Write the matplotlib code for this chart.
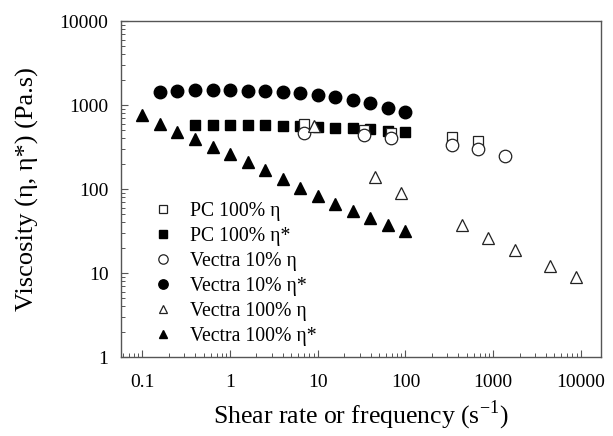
import matplotlib
matplotlib.use("Agg")
import matplotlib.pyplot as plt
from matplotlib.ticker import LogLocator, FixedLocator, NullFormatter, FixedFormatter

plt.rcParams['font.family'] = ['Liberation Serif', 'DejaVu Serif']
plt.rcParams['mathtext.fontset'] = 'custom'
plt.rcParams['mathtext.rm'] = 'Liberation Serif'

# PC 100% eta (open squares)
pc_eta_x = [6.9, 34, 69, 340, 680]
pc_eta_y = [594, 506, 468, 418, 376]
# PC 100% eta* (filled squares)
pc_etas_x = [0.398, 0.631, 1.0, 1.585, 2.51, 3.98, 6.31, 10, 15.85, 25.1, 39.8, 63.1, 100]
pc_etas_y = [578, 578, 578, 578, 578, 567, 562, 552, 537, 527, 513, 494, 481]
# Vectra 10% eta (open circles)
v10_eta_x = [6.9, 34, 69, 340, 680, 1350]
v10_eta_y = [460, 440, 400, 334, 297, 247]
# Vectra 10% eta* (filled circles)
v10_etas_x = [0.158, 0.251, 0.398, 0.631, 1.0, 1.585, 2.51, 3.98, 6.31, 10, 15.85, 25.1, 39.8, 63.1, 100]
v10_etas_y = [1440, 1470, 1510, 1510, 1510, 1480, 1470, 1440, 1380, 1315, 1235, 1150, 1050, 930, 830]
# Vectra 100% eta (open triangles)
v100_eta_x = [9.1, 44.7, 89, 440, 870, 1780, 4400, 8800]
v100_eta_y = [567, 140, 89, 37, 26, 18.7, 12.1, 9.0]
# Vectra 100% eta* (filled triangles)
v100_etas_x = [0.1, 0.158, 0.251, 0.398, 0.631, 1.0, 1.585, 2.51, 3.98, 6.31, 10, 15.85, 25.1, 39.8, 63.1, 100]
v100_etas_y = [760, 594, 481, 390, 318, 259, 211, 168, 132, 104, 83, 67, 54, 45, 37, 31.6]

labels = ["PC 100% η", "PC 100% η*", "Vectra 10% η", "Vectra 10% η*",
          "Vectra 100% η", "Vectra 100% η*"]

xticks = [0.1, 1, 10, 100, 1000, 10000]
xticklabels = ["0.1", "1", "10", "100", "1000", "10000"]
yticks = [1, 10, 100, 1000, 10000]
yticklabels = ["1", "10", "100", "1000", "10000"]

fig = plt.figure(figsize=(6.13, 4.36), dpi=100)
ax = fig.add_axes([121/613, 1-357/436, (601-121)/613, (357-21)/436])

mew = 0.9
ax.plot(pc_eta_x, pc_eta_y, 's', ms=7.5, mfc='white', mec='#222222', mew=mew, ls='none', label=labels[0], zorder=3)
ax.plot(pc_etas_x, pc_etas_y, 's', ms=7.5, mfc='black', mec='black', ls='none', label=labels[1], zorder=2)
ax.plot(v10_eta_x, v10_eta_y, 'o', ms=9, mfc='white', mec='#222222', mew=mew, ls='none', label=labels[2], zorder=3)
ax.plot(v10_etas_x, v10_etas_y, 'o', ms=9, mfc='black', mec='black', ls='none', label=labels[3], zorder=2)
ax.plot(v100_eta_x, v100_eta_y, '^', ms=8.5, mfc='white', mec='#222222', mew=mew, ls='none', label=labels[4], zorder=3)
ax.plot(v100_etas_x, v100_etas_y, '^', ms=8.5, mfc='black', mec='black', ls='none', label=labels[5], zorder=2)

ax.set_xscale('log')
ax.set_yscale('log')
ax.set_xlim(0.057, 17000)
ax.set_ylim(1, 10000)

ax.xaxis.set_major_locator(FixedLocator(xticks))
ax.xaxis.set_major_formatter(FixedFormatter(xticklabels))
ax.yaxis.set_major_locator(FixedLocator(yticks))
ax.yaxis.set_major_formatter(FixedFormatter(yticklabels))
ax.xaxis.set_minor_locator(LogLocator(base=10, subs=range(2, 10)))
ax.yaxis.set_minor_locator(LogLocator(base=10, subs=range(2, 10)))
ax.xaxis.set_minor_formatter(NullFormatter())
ax.yaxis.set_minor_formatter(NullFormatter())

for s in ax.spines.values():
    s.set_color('#555555')
    s.set_linewidth(1.0)

ax.tick_params(which='both', direction='in', top=False, right=False, colors='#555555',
               labelcolor='black', labelsize=14)
ax.tick_params(axis='x', which='both', pad=12)
ax.tick_params(axis='y', which='both', pad=9)
ax.tick_params(which='major', length=5, width=0.8)
ax.tick_params(which='minor', length=3, width=0.7)

ax.set_xlabel("Shear rate or frequency (s$^{-1}$)", fontsize=18.5, labelpad=6)
ax.set_ylabel("Viscosity (η, η*) (Pa.s)", fontsize=19, labelpad=15)

leg = ax.legend(loc='upper left', bbox_to_anchor=(153/613, 1-202/436), bbox_transform=fig.transFigure,
                frameon=False, fontsize=14.2, markerscale=0.75, handlelength=1.0,
                handletextpad=0.9, labelspacing=0.3, borderpad=0, borderaxespad=0)

fig.savefig("out.png", dpi=100)
